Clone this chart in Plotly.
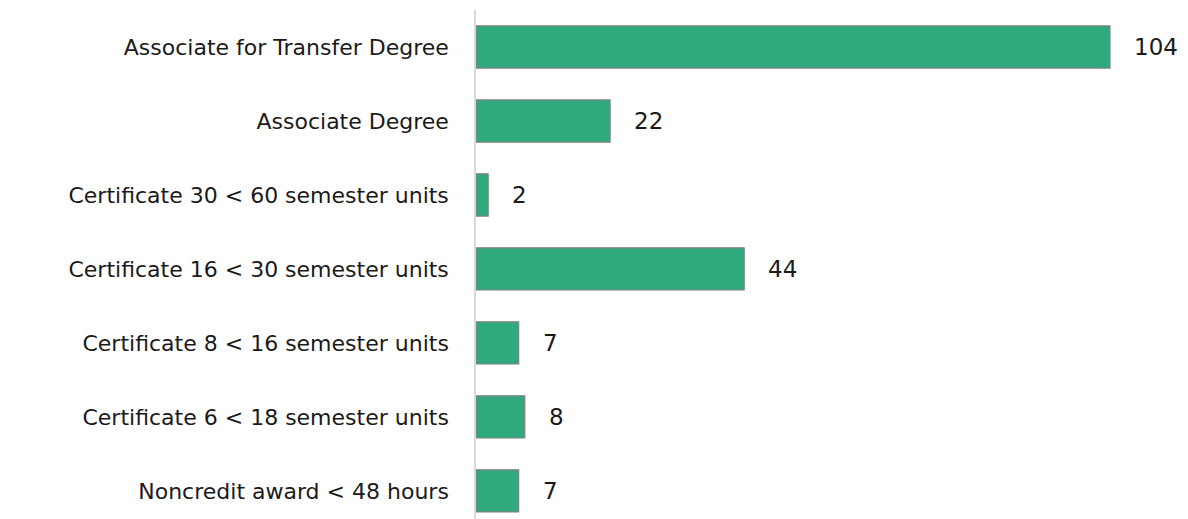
import plotly.graph_objects as go

categories = [
    "Associate for Transfer Degree",
    "Associate Degree",
    "Certificate 30 < 60 semester units",
    "Certificate 16 < 30 semester units",
    "Certificate 8 < 16 semester units",
    "Certificate 6 < 18 semester units",
    "Noncredit award < 48 hours",
]
values = [104, 22, 2, 44, 7, 8, 7]

FONT = "DejaVu Sans"

fig = go.Figure(
    go.Bar(
        y=categories,
        x=values,
        orientation="h",
        width=0.57,
        marker=dict(color="#2EAA7C", line=dict(color="#808080", width=1.2)),
        hoverinfo="x+y",
    )
)

for c, v in zip(categories, values):
    fig.add_annotation(
        x=v, y=c, text=str(v), showarrow=False, xanchor="left", xshift=22,
        font=dict(family=FONT, size=23, color="#1a1a1a"),
    )

fig.update_layout(
    width=1180, height=511,
    margin=dict(l=468, r=11, t=2, b=0),
    paper_bgcolor="white", plot_bgcolor="white",
    showlegend=False,
    font=dict(family=FONT, size=22, color="#1a1a1a"),
)
fig.update_xaxes(range=[0, 115], visible=False, showgrid=False, zeroline=False)
fig.update_yaxes(
    range=[6.38, -0.5], showgrid=False, zeroline=False,
    showline=True, linecolor="#d9d9d9", linewidth=1.5,
    ticks="", ticklabelstandoff=21,
    tickfont=dict(family=FONT, size=22, color="#1a1a1a"),
)

fig.write_html("out.html")
